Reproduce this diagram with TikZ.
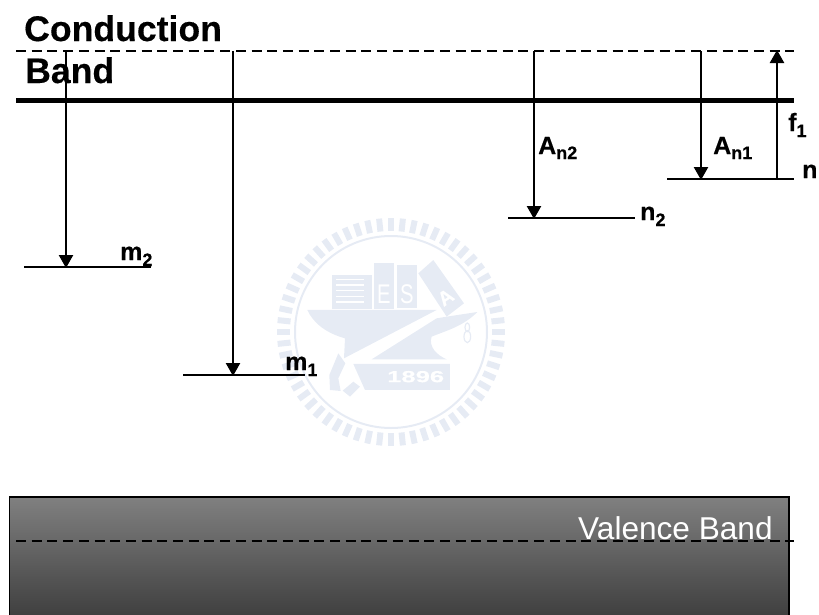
\documentclass[tikz,border=0pt]{standalone}
\usepackage{fontspec}
\setmainfont{Liberation Sans}[BoldFeatures={FakeBold=0.3}]
\usetikzlibrary{arrows.meta}
\definecolor{wm}{RGB}{230,235,244}
\definecolor{vtop}{RGB}{128,128,128}
\definecolor{vbot}{RGB}{60,60,60}
\newcommand{\lab}[3][6]{\bfseries\fontsize{25}{25}\selectfont #2\raisebox{-#1pt}{\fontsize{18}{18}\selectfont #3}}
\tikzset{
  level/.style={line width=2pt},
  dashline/.style={line width=2.3pt,dash pattern=on 10pt off 5.7pt},
  trans/.style={line width=2.4pt,-{Triangle[width=14pt,length=13pt]},shorten >=-1pt},
  txt/.style={inner sep=0pt,anchor=base west},
  head/.style={txt,font=\bfseries\fontsize{35.6}{35.6}\selectfont},
  wmark/.style={fill=wm,draw=none}
}
\begin{document}
\begin{tikzpicture}[x=1pt,y=-1pt]
\useasboundingbox (0,0) rectangle (819,614);
% watermark
\begin{scope}[shift={(391,332)}]
  \foreach \a in {0,6,...,354}
    \draw[wm,line width=6pt] (\a:101) -- (\a:114);
  \draw[wm,line width=2pt] (0,0) circle (96);
\end{scope}
\begin{scope}[shift={(270,190)},x=0.3333pt,y=-0.3333pt]
  \fill[wmark] (185,255) rectangle (305,358);
  \foreach \yy in {268,285,302,319,336}
    \draw[white,line width=1.4pt] (198,\yy) -- (282,\yy);
  \fill[wmark] (312,220) rectangle (372,358);
  \fill[wmark] (380,225) rectangle (442,355);
  \node[white,xscale=.75,font=\fontsize{27}{27}\selectfont] (bookE) at (342,312) {E};
  \node[white,xscale=.75,font=\fontsize{27}{27}\selectfont] (bookS) at (411,312) {S};
  \fill[wmark] (445,250) -- (490,210) -- (582,340) -- (530,380) -- cycle;
  \node[white,rotate=35,font=\bfseries\fontsize{20}{20}\selectfont] (bookA) at (527,322) {A};
  \fill[wmark] (112,360) -- (500,360) -- (222,505) -- (225,445)
     .. controls (170,430) and (130,400) .. cycle;
  \fill[wmark] (500,385) -- (530,380) -- (622,366) .. controls (580,410) and (520,425) .. (485,440)
     .. controls (475,470) and (500,495) .. (530,508) -- (305,508) -- cycle;
  \fill[wmark] (250,522) -- (540,522) -- (540,600) -- (285,600) -- cycle;
  \node[white,xscale=1.6,font=\bfseries\fontsize{16}{16}\selectfont] (year) at (437,560) {1896};
  \fill[wmark] (178,555) -- (205,490) -- (226,520) -- (205,565) -- (212,603) -- (180,600) -- cycle;
  \fill[wmark] (218,602) -- (250,575) -- (270,590) -- (240,620) -- cycle;
  \draw[wm,line width=1.2pt] (592,412) ellipse (7 and 13);
  \draw[wm,line width=1.2pt] (592,440) ellipse (10 and 18);
\end{scope}
% valence band
\shade[top color=vtop,bottom color=vbot] (9.5,497) rectangle (789,622);
\draw[line width=1.5pt] (9.5,622) -- (9.5,497) -- (789,497) -- (789,622);
\node[txt,text=white,font=\fontsize{31.6}{31.6}\selectfont] (vb) at (578,539) {Valence Band};
\coordinate (vl) at (16,541);
\coordinate (vr) at (794,541);
\draw[dashline] (vl) -- (vr);
% band edges
\coordinate (dl) at (16,51);
\coordinate (dr) at (794,51);
\coordinate (el) at (16,100);
\coordinate (er) at (794,100);
\draw[dashline] (dl) -- (dr);
\draw[line width=5pt] (el) -- (er);
\node[head] (cond) at (24,41) {Conduction};
\node[head] (band) at (25,83) {Band};
% levels
\coordinate (m2l) at (24,267);  \coordinate (m2r) at (151,267);
\coordinate (m1l) at (183,375); \coordinate (m1r) at (305,375);
\coordinate (n2l) at (508,218); \coordinate (n2r) at (635,218);
\coordinate (n1l) at (667,179); \coordinate (n1r) at (794,179);
\draw[level] (m2l) -- (m2r);
\draw[level] (m1l) -- (m1r);
\draw[level] (n2l) -- (n2r);
\draw[level] (n1l) -- (n1r);
% transitions
\coordinate (t1) at (66,51);  \coordinate (b1) at (66,267);
\coordinate (t2) at (233,51); \coordinate (b2) at (233,375);
\coordinate (t3) at (534,51); \coordinate (b3) at (534,218);
\coordinate (t4) at (701,51); \coordinate (b4) at (701,179);
\coordinate (t5) at (777,51); \coordinate (b5) at (777,179);
\draw[trans] (t1) -- (b1);
\draw[trans] (t2) -- (b2);
\draw[trans] (t3) -- (b3);
\draw[trans] (t4) -- (b4);
\draw[trans] (b5) -- (t5);
% labels
\node[txt] (lm2) at (120,260) {\lab{m}{2}};
\node[txt] (lm1) at (285,370) {\lab{m}{1}};
\node[txt] (ln2) at (640,220) {\lab{n}{2}};
\node[txt] (ln1) at (802,178) {\lab{n\kern1pt}{1}};
\node[txt] (lf1) at (788,131) {\lab{f}{1}};
\node[txt] (la2) at (538,154) {\lab[5]{A}{n2}};
\node[txt] (la1) at (713,154) {\lab[5]{A}{n1}};
\end{tikzpicture}
\end{document}
